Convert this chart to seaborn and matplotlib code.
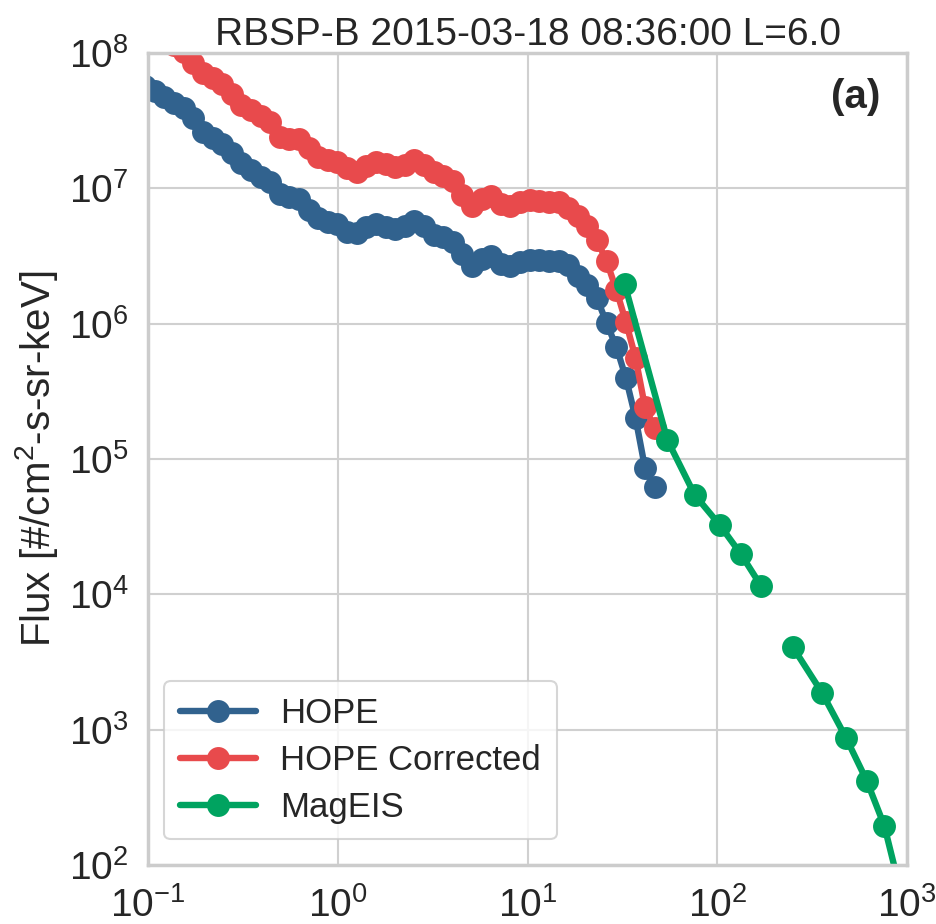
import numpy as np
import pandas as pd
import matplotlib
matplotlib.use("Agg")
import matplotlib.pyplot as plt
from matplotlib.lines import Line2D
import seaborn as sns

# ---------------- data ----------------
hope_energy = [0.0966, 0.1086, 0.122, 0.137, 0.154, 0.173, 0.195, 0.219, 0.246, 0.276,
               0.310, 0.349, 0.392, 0.440, 0.495, 0.556, 0.625, 0.702, 0.789, 0.887,
               0.996, 1.120, 1.258, 1.414, 1.589, 1.785, 2.01, 2.25, 2.53, 2.85,
               3.20, 3.59, 4.04, 4.54, 5.10, 5.73, 6.44, 7.24, 8.13, 9.14,
               10.27, 11.54, 12.97, 14.6, 16.4, 18.4, 20.7, 23.2, 26.1, 29.4,
               33.0, 37.1, 41.6, 46.8]

hope_flux = [5.71e7, 5.24e7, 4.73e7, 4.27e7, 3.92e7, 3.31e7, 2.61e7, 2.35e7, 2.13e7, 1.82e7,
             1.54e7, 1.37e7, 1.21e7, 1.11e7, 9.08e6, 8.63e6, 8.34e6, 6.92e6, 6.04e6, 5.64e6,
             5.45e6, 4.76e6, 4.68e6, 5.18e6, 5.45e6, 5.18e6, 5.01e6, 5.27e6, 5.74e6, 5.27e6,
             4.52e6, 4.37e6, 4.01e6, 3.27e6, 2.67e6, 3.00e6, 3.16e6, 2.76e6, 2.67e6, 2.86e6,
             2.95e6, 2.95e6, 2.90e6, 2.90e6, 2.71e6, 2.25e6, 1.93e6, 1.55e6, 1.01e6, 6.72e5,
             3.97e5, 2.01e5, 8.58e4, 6.21e4]

hope_corr_flux = [1.58e8, 1.43e8, 1.27e8, 1.15e8, 1.02e8, 8.44e7, 7.11e7, 6.53e7, 5.90e7, 4.98e7,
                  4.13e7, 3.79e7, 3.42e7, 3.09e7, 2.39e7, 2.31e7, 2.31e7, 1.99e7, 1.70e7, 1.62e7,
                  1.57e7, 1.41e7, 1.32e7, 1.46e7, 1.57e7, 1.51e7, 1.44e7, 1.49e7, 1.62e7, 1.49e7,
                  1.32e7, 1.23e7, 1.13e7, 8.93e6, 7.40e6, 8.34e6, 8.78e6, 7.66e6, 7.40e6, 7.92e6,
                  8.20e6, 8.06e6, 7.92e6, 7.92e6, 7.16e6, 6.25e6, 5.27e6, 4.15e6, 2.90e6, 1.77e6,
                  1.03e6, 5.58e5, 2.42e5, 1.69e5]

mageis_energy = [32.5, 54.6, 76.1, 103.1, 133.0, 169.7, 249.4, 356.0, 476.6, 612.9, 759.0, 907.0]
mageis_flux = [1.96e6, 1.38e5, 5.42e4, 3.25e4, 1.99e4, 1.16e4, 4.10e3, 1.88e3, 872.0, 420.0, 195.0, 71.1]
mageis_segment = [0, 0, 0, 0, 0, 0, 1, 1, 1, 1, 1, 1]   # gap between 170 and 250 keV

labels = ["HOPE", "HOPE Corrected", "MagEIS"]
colors = ["#31628e", "#e84a4c", "#00a360"]

title = "RBSP-B 2015-03-18 08:36:00 L=6.0"
xlabel_ticks = [1e-1, 1e0, 1e1, 1e2, 1e3]
ylabel_ticks = [1e2, 1e3, 1e4, 1e5, 1e6, 1e7, 1e8]

# ---------------- table ----------------
df = pd.concat([
    pd.DataFrame({"energy": hope_energy, "flux": hope_flux,
                  "instrument": labels[0], "seg": "h0"}),
    pd.DataFrame({"energy": hope_energy, "flux": hope_corr_flux,
                  "instrument": labels[1], "seg": "c0"}),
    pd.DataFrame({"energy": mageis_energy, "flux": mageis_flux,
                  "instrument": labels[2],
                  "seg": ["m%d" % s for s in mageis_segment]}),
], ignore_index=True)

# ---------------- style ----------------
sns.set_theme(style="whitegrid")
plt.rcParams["font.family"] = ["Liberation Sans", "DejaVu Sans"]
plt.rcParams["mathtext.fontset"] = "custom"
plt.rcParams["mathtext.rm"] = "Liberation Sans"
plt.rcParams["mathtext.it"] = "Liberation Sans:italic"
plt.rcParams["mathtext.bf"] = "Liberation Sans:bold"

fig = plt.figure(figsize=(9.37, 9.24), dpi=100)
ax = fig.add_axes([0.158, 0.0639, 0.81, 0.8787])

MS = 16.5
LW = 4.6
palette = dict(zip(labels, colors))
sns.lineplot(data=df, x="energy", y="flux", hue="instrument", units="seg",
             estimator=None, sort=False, palette=palette, marker="o",
             markersize=MS, markeredgewidth=0, linewidth=LW, legend=False, ax=ax)

ax.set_xscale("log")
ax.set_yscale("log")
ax.set_xlim(1e-1, 1e3)
ax.set_ylim(1e2, 1e8)
ax.set_xticks(xlabel_ticks)
ax.set_yticks(ylabel_ticks)
ax.minorticks_off()
ax.tick_params(axis="both", labelsize=28, colors="#262626")
ax.tick_params(axis="x", pad=10)
ax.tick_params(axis="y", pad=8)
ax.grid(True, which="major", color="#d0d0d0", linewidth=1.5)
for sp in ax.spines.values():
    sp.set_color("#cccccc")
    sp.set_linewidth(2.5)

ax.set_xlabel("")
ax.set_ylabel("Flux [#/cm$^2$-s-sr-keV]", fontsize=29, color="#262626", labelpad=6)
ax.set_title(title, fontsize=28, color="#262626", pad=6)
ax.text(0.965, 0.946, "(a)", transform=ax.transAxes, ha="right", va="center",
        fontsize=29, fontweight="bold", color="#262626")

handles = [Line2D([], [], color=c, marker="o", markersize=MS, markeredgewidth=0,
                  linewidth=LW) for c in colors]
leg = ax.legend(handles, labels, loc="lower left", bbox_to_anchor=(-0.002, 0.01),
                fontsize=25, frameon=True, handlelength=2.2, borderpad=0.45,
                labelspacing=0.4, handletextpad=0.7)
leg.get_frame().set_edgecolor("#cccccc")
leg.get_frame().set_linewidth(1.5)
for t in leg.get_texts():
    t.set_color("#262626")

fig.savefig("out.png", dpi=100)
